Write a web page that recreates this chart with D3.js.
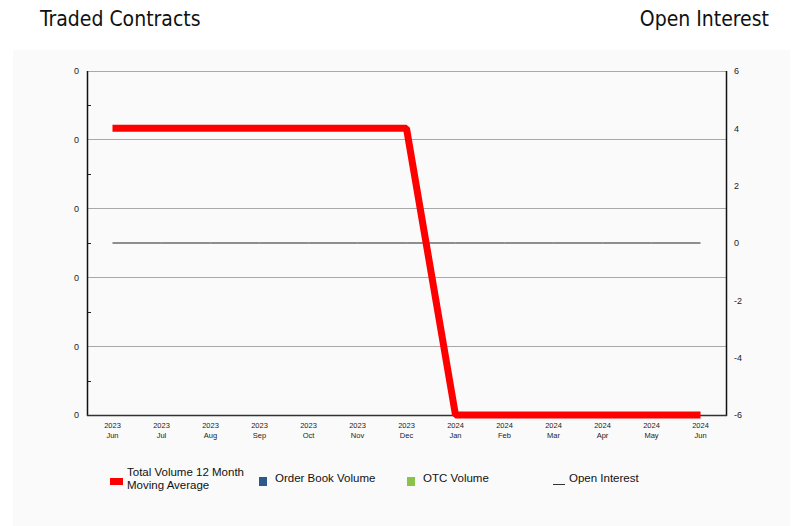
<!DOCTYPE html>
<html><head><meta charset="utf-8">
<script src="https://cdn.jsdelivr.net/npm/d3@7"></script>
<style>
html,body{margin:0;padding:0;background:#fff;}
svg{display:block;}
</style></head>
<body>
<svg id="chart" width="804" height="526"></svg>
<script>
const months = ["2023|Jun","2023|Jul","2023|Aug","2023|Sep","2023|Oct","2023|Nov","2023|Dec","2024|Jan","2024|Feb","2024|Mar","2024|Apr","2024|May","2024|Jun"];
const movingAverage = [4,4,4,4,4,4,4,-6,-6,-6,-6,-6,-6];
const openInterest = [0,0,0,0,0,0,0,0,0,0,0,0,0];
const leftTickValues = [0,1,2,3,4,5];
const leftTickLabels = ["0","0","0","0","0","0"];
const rightTickValues = [-6,-4,-2,0,2,4,6];
const legendItems = [
  {label:["Total Volume 12 Month","Moving Average"], color:"#ff0000", type:"wide"},
  {label:["Order Book Volume"], color:"#2d5a8b", type:"square"},
  {label:["OTC Volume"], color:"#8bc34a", type:"square"},
  {label:["Open Interest"], color:"#333333", type:"line"}
];

const svg = d3.select("#chart");
const m = {left:87, right:726, top:71, bottom:415};

// panel background
svg.append("rect").attr("x",13).attr("y",50).attr("width",777).attr("height",476).attr("fill","#fafafa");

// titles
const tfont = "'DejaVu Sans Condensed','DejaVu Sans',sans-serif";
svg.append("text").attr("x",40).attr("y",26).attr("font-family",tfont)
  .attr("font-size",21).attr("fill","#111").text("Traded Contracts");
svg.append("text").attr("x",769).attr("y",26).attr("text-anchor","end").attr("font-family",tfont)
  .attr("font-size",21).attr("fill","#111").text("Open Interest");

const x = d3.scalePoint().domain(months).range([m.left, m.right]).padding(0.52);
const yL = d3.scaleLinear().domain([0,5]).range([m.bottom, m.top]);
const yR = d3.scaleLinear().domain([-6,6]).range([m.bottom, m.top]);

const font = "'Liberation Sans',Arial,sans-serif";

// gridlines
svg.append("g").selectAll("line").data(leftTickValues).join("line")
  .attr("x1",m.left).attr("x2",m.right).attr("y1",d=>yL(d)).attr("y2",d=>yL(d))
  .attr("stroke","#a8a8a8").attr("stroke-width",1).attr("shape-rendering","crispEdges");

// left axis
const leftAxis = d3.axisLeft(yL).tickValues(leftTickValues).tickSize(0).tickPadding(8)
  .tickFormat((d,i)=>leftTickLabels[i]);
const gL = svg.append("g").attr("transform",`translate(${m.left},0)`).call(leftAxis);
gL.select(".domain").remove();
gL.selectAll("text").attr("font-family",font).attr("font-size",9).attr("fill","#222");
// minor ticks
const minor = leftTickValues.slice(0,-1).map(d=>d+0.5);
svg.append("g").selectAll("line").data(minor).join("line")
  .attr("x1",m.left).attr("x2",m.left+4).attr("y1",d=>Math.round(yL(d))+0.5).attr("y2",d=>Math.round(yL(d))+0.5)
  .attr("stroke","#222").attr("stroke-width",1);

// right axis
const rightAxis = d3.axisRight(yR).tickValues(rightTickValues).tickSize(0).tickPadding(8).tickFormat(d=>String(d));
const gR = svg.append("g").attr("transform",`translate(${m.right},0)`).call(rightAxis);
gR.select(".domain").remove();
gR.selectAll("text").attr("font-family",font).attr("font-size",9).attr("fill","#222");

// x axis labels
const gX = svg.append("g");
months.forEach(mo=>{
  const [yr,mn] = mo.split("|");
  const t = gX.append("text").attr("x",x(mo)).attr("text-anchor","middle").attr("font-family",font).attr("font-size",7.5).attr("fill","#222");
  t.append("tspan").attr("x",x(mo)).attr("y",428).text(yr);
  t.append("tspan").attr("x",x(mo)).attr("y",438).text(mn);
});

// axis frame lines
svg.append("line").attr("x1",m.left+0.5).attr("x2",m.left+0.5).attr("y1",m.top).attr("y2",m.bottom+1).attr("stroke","#111").attr("stroke-width",1.5);
svg.append("line").attr("x1",m.right+0.5).attr("x2",m.right+0.5).attr("y1",m.top).attr("y2",m.bottom+1).attr("stroke","#111").attr("stroke-width",1.5);
svg.append("line").attr("x1",m.left).attr("x2",m.right+1).attr("y1",m.bottom+0.5).attr("y2",m.bottom+0.5).attr("stroke","#333").attr("stroke-width",1.5);

// open interest line
const lineOI = d3.line().x((d,i)=>x(months[i])).y(d=>yR(d));
svg.append("path").datum(openInterest).attr("d",lineOI).attr("fill","none").attr("stroke","#222").attr("stroke-width",1);

// moving average
const lineMA = d3.line().x((d,i)=>x(months[i])).y(d=>yR(d));
svg.append("path").datum(movingAverage).attr("d",lineMA).attr("fill","none").attr("stroke","#ff0000")
  .attr("stroke-width",7).attr("stroke-linejoin","bevel");

// legend
const legX = [110, 259, 407, 553];
legendItems.forEach((it,i)=>{
  const g = svg.append("g").attr("transform",`translate(${legX[i]},0)`);
  let tx;
  if(it.type==="wide"){
    g.append("rect").attr("x",0).attr("y",478).attr("width",13).attr("height",7).attr("fill",it.color);
    tx = 17;
  } else if(it.type==="square"){
    g.append("rect").attr("x",0).attr("y",477).attr("width",8).attr("height",9).attr("fill",it.color);
    tx = 16;
  } else {
    g.append("line").attr("x1",0).attr("x2",12).attr("y1",484.5).attr("y2",484.5).attr("stroke",it.color).attr("stroke-width",1);
    tx = 16;
  }
  const t = g.append("text").attr("font-family",font).attr("font-size",11.5).attr("fill","#111");
  if(it.label.length===2){
    t.append("tspan").attr("x",tx).attr("y",476).text(it.label[0]);
    t.append("tspan").attr("x",tx).attr("y",489).text(it.label[1]);
  } else {
    t.append("tspan").attr("x",tx).attr("y",482).text(it.label[0]);
  }
});
</script>
</body></html>
